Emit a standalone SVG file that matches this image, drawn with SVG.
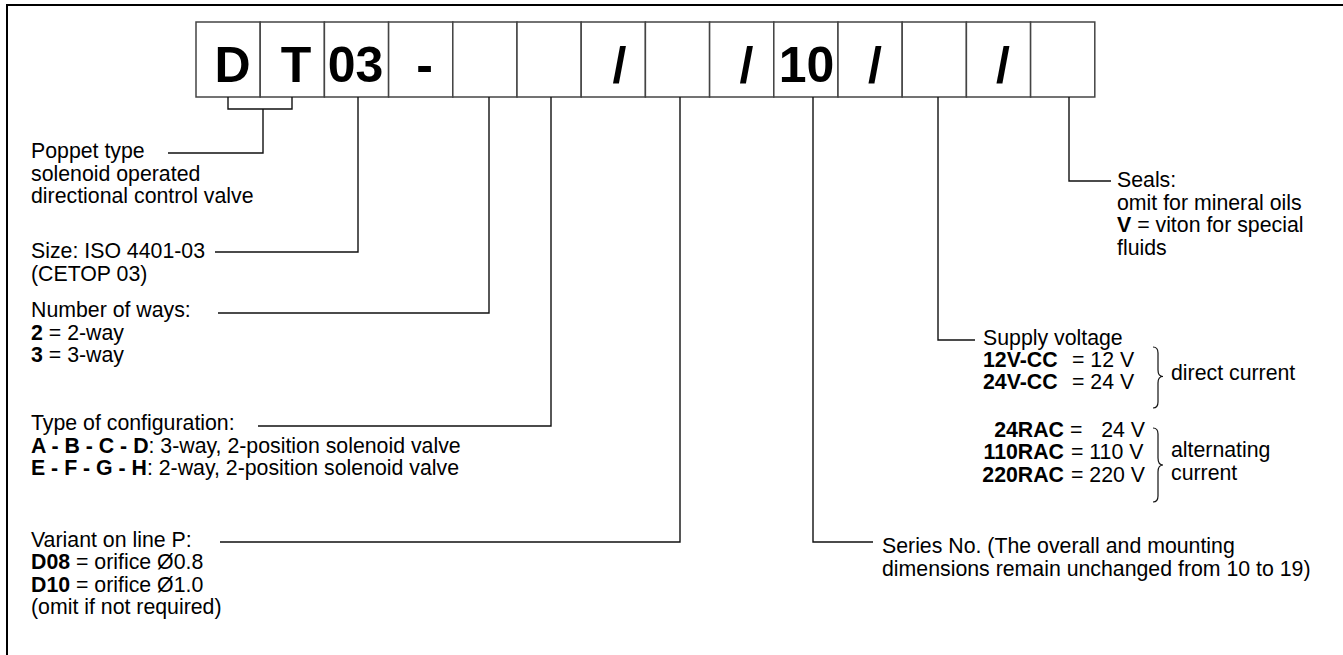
<svg xmlns="http://www.w3.org/2000/svg" width="1343" height="655" viewBox="0 0 1343 655">
<style>
.frame{stroke:#000;stroke-width:2;fill:none}
.box{fill:#fff;stroke:#444;stroke-width:1.5}
.code{font-family:"Liberation Sans",Arial,sans-serif;font-weight:bold;font-size:50px;fill:#000;text-anchor:middle}
.t{font-family:"Liberation Sans",Arial,sans-serif;font-size:21.3px;fill:#000}
.b{font-weight:bold}
.e{text-anchor:end}
.ln{stroke:#111;stroke-width:1.4;fill:none}
.br{stroke:#111;stroke-width:1.2;fill:none}
</style>
<rect width="1343" height="655" fill="#fff"/>
<path class="frame" d="M7,655 V5 H1343"/>

<g id="code-boxes">
<g id="box-1"><rect class="box" x="196" y="22" width="64.2" height="75"/><text class="code" x="232.5" y="82">D</text></g>
<g id="box-2"><rect class="box" x="260.2" y="22" width="64.2" height="75"/><text class="code" x="296" y="82">T</text></g>
<g id="box-3"><rect class="box" x="324.4" y="22" width="64.2" height="75"/><text class="code" x="355.5" y="82">03</text></g>
<g id="box-4"><rect class="box" x="388.6" y="22" width="64.2" height="75"/><text class="code" x="424.5" y="82">-</text></g>
<g id="box-5"><rect class="box" x="452.8" y="22" width="64.2" height="75"/></g>
<g id="box-6"><rect class="box" x="517" y="22" width="64.2" height="75"/></g>
<g id="box-7"><rect class="box" x="581.2" y="22" width="64.2" height="75"/><text class="code" x="619.5" y="82">/</text></g>
<g id="box-8"><rect class="box" x="645.4" y="22" width="64.2" height="75"/></g>
<g id="box-9"><rect class="box" x="709.6" y="22" width="64.2" height="75"/><text class="code" x="746.5" y="82">/</text></g>
<g id="box-10"><rect class="box" x="773.8" y="22" width="64.2" height="75"/><text class="code" x="806.5" y="82">10</text></g>
<g id="box-11"><rect class="box" x="838" y="22" width="64.2" height="75"/><text class="code" x="875" y="82">/</text></g>
<g id="box-12"><rect class="box" x="902.2" y="22" width="64.2" height="75"/></g>
<g id="box-13"><rect class="box" x="966.4" y="22" width="64.2" height="75"/><text class="code" x="1003" y="82">/</text></g>
<g id="box-14"><rect class="box" x="1030.6" y="22" width="64.2" height="75"/></g>
</g>

<g id="connectors">
<path class="ln" d="M228,97 V109 H292 V97 M263,109 V153 H168"/>
<path class="ln" d="M358,97 V252 H215"/>
<path class="ln" d="M489,97 V313 H218"/>
<path class="ln" d="M551,97 V426 H258"/>
<path class="ln" d="M680,97 V542 H220"/>
<path class="ln" d="M813,97 V542 H873"/>
<path class="ln" d="M938,97 V340 H975"/>
<path class="ln" d="M1069,97 V181 H1111"/>
</g>

<g id="label-poppet">
<text class="t" x="31" y="158">Poppet type</text>
<text class="t" x="31" y="180.5">solenoid operated</text>
<text class="t" x="31" y="203">directional control valve</text>
</g>

<g id="label-size">
<text class="t" x="31" y="258">Size: ISO 4401-03</text>
<text class="t" x="31" y="280.5">(CETOP 03)</text>
</g>

<g id="label-ways">
<text class="t" x="31" y="317">Number of ways:</text>
<text class="t" x="31" y="339.5"><tspan class="b">2</tspan> = 2-way</text>
<text class="t" x="31" y="362"><tspan class="b">3</tspan> = 3-way</text>
</g>

<g id="label-config">
<text class="t" x="31" y="430">Type of configuration:</text>
<text class="t" x="31" y="452.5"><tspan class="b">A - B - C - D</tspan>: 3-way, 2-position solenoid valve</text>
<text class="t" x="31" y="475"><tspan class="b">E - F - G - H</tspan>: 2-way, 2-position solenoid valve</text>
</g>

<g id="label-variant">
<text class="t" x="31" y="546.5">Variant on line P:</text>
<text class="t" x="31" y="569"><tspan class="b">D08</tspan> = orifice Ø0.8</text>
<text class="t" x="31" y="591.5"><tspan class="b">D10</tspan> = orifice Ø1.0</text>
<text class="t" x="31" y="614">(omit if not required)</text>
</g>

<g id="label-series">
<text class="t" x="882" y="553">Series No. (The overall and mounting</text>
<text class="t" x="882" y="575.5">dimensions remain unchanged from 10 to 19)</text>
</g>

<g id="label-voltage">
<text class="t" x="983" y="345">Supply voltage</text>
<text class="t b" x="983" y="366.5">12V-CC</text><text class="t" x="1072" y="366.5">= 12 V</text>
<text class="t b" x="983" y="389">24V-CC</text><text class="t" x="1072" y="389">= 24 V</text>
<path class="br" d="M1153,347 Q1158,347 1158,353 V370 Q1158,376.5 1163,376.5 Q1158,376.5 1158,383 V402 Q1158,408 1153,408"/>
<text class="t" x="1171" y="380">direct current</text>
<text class="t b e" x="1064" y="436.5">24RAC</text><text class="t" x="1070" y="436.5">=</text><text class="t e" x="1145" y="436.5">24 V</text>
<text class="t b e" x="1064" y="459">110RAC</text><text class="t" x="1071" y="459">= 110 V</text>
<text class="t b e" x="1064" y="481.5">220RAC</text><text class="t" x="1071" y="481.5">= 220 V</text>
<path class="br" d="M1153,428 Q1158,428 1158,434 V458 Q1158,465 1163,465 Q1158,465 1158,472 V496 Q1158,502 1153,502"/>
<text class="t" x="1171" y="457">alternating</text>
<text class="t" x="1171" y="479.5">current</text>
</g>

<g id="label-seals">
<text class="t" x="1117" y="187">Seals:</text>
<text class="t" x="1117" y="209.5">omit for mineral oils</text>
<text class="t" x="1117" y="232"><tspan class="b">V</tspan> = viton for special</text>
<text class="t" x="1117" y="254.5">fluids</text>
</g>
</svg>
